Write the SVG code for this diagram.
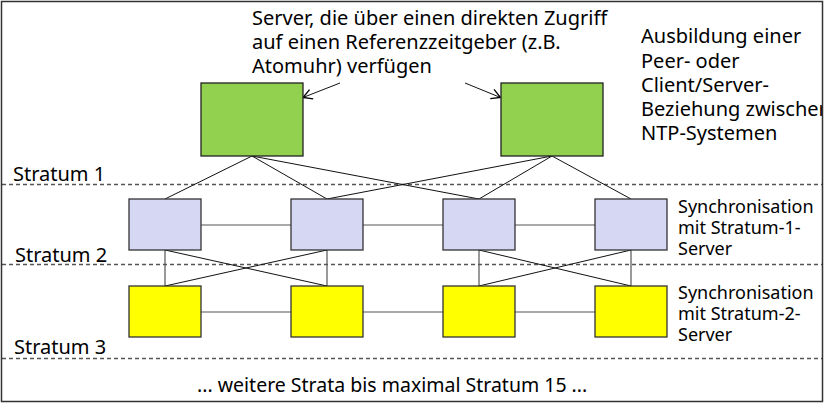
<svg xmlns="http://www.w3.org/2000/svg" width="826" height="403" viewBox="0 0 826 403">
<style>
text{font-family:"Noto Sans","Open Sans","DejaVu Sans",sans-serif;fill:#000}
.t20{font-size:20px}
.t18{font-size:18px}
.green{fill:#92D050;stroke:#222;stroke-width:1.3}
.lav{fill:#D5D7F3;stroke:#333;stroke-width:1.3}
.yel{fill:#FFFF00;stroke:#333;stroke-width:1.3}
.dash{stroke:#555;stroke-width:1.3;stroke-dasharray:4 3;fill:none}
.c{stroke:#111;stroke-width:1;fill:none}
.g{stroke:#555;stroke-width:1.2;fill:none}
</style>
<defs>
<marker id="arr" markerWidth="12" markerHeight="12" refX="10" refY="6" orient="auto" markerUnits="userSpaceOnUse">
<path d="M1,1 L10,6 L1,11" fill="none" stroke="#000" stroke-width="1.3"/>
</marker>
<clipPath id="clip"><rect x="1.5" y="1.5" width="821" height="400"/></clipPath>
</defs>
<rect x="0" y="0" width="826" height="403" fill="#fff"/>
<g id="strata">
<line class="dash" x1="2" y1="184.5" x2="822" y2="184.5"/>
<line class="dash" x1="2" y1="264.5" x2="822" y2="264.5"/>
<line class="dash" x1="2" y1="358.5" x2="822" y2="358.5"/>
<text class="t20" x="13" y="181">Stratum 1</text>
<text class="t20" x="15" y="262">Stratum 2</text>
<text class="t20" x="14" y="354">Stratum 3</text>
</g>
<g id="connectors">
<line class="c" x1="252" y1="156" x2="165" y2="199"/>
<line class="c" x1="252" y1="156" x2="327" y2="199"/>
<line class="c" x1="252" y1="156" x2="479" y2="199"/>
<line class="c" x1="552" y1="156" x2="327" y2="199"/>
<line class="c" x1="552" y1="156" x2="479" y2="199"/>
<line class="c" x1="552" y1="156" x2="631" y2="199"/>
<line class="g" x1="201" y1="225" x2="291" y2="225"/>
<line class="g" x1="363" y1="225" x2="443" y2="225"/>
<line class="g" x1="515" y1="225" x2="595" y2="225"/>
<line class="g" x1="201" y1="312" x2="291" y2="312"/>
<line class="g" x1="363" y1="312" x2="443" y2="312"/>
<line class="g" x1="515" y1="312" x2="595" y2="312"/>
<line class="g" x1="165" y1="250" x2="165" y2="286"/>
<line class="g" x1="327" y1="250" x2="327" y2="286"/>
<line class="g" x1="479" y1="250" x2="479" y2="286"/>
<line class="g" x1="631" y1="250" x2="631" y2="286"/>
<line class="c" x1="165" y1="250" x2="327" y2="286"/>
<line class="c" x1="327" y1="250" x2="165" y2="286"/>
<line class="c" x1="479" y1="250" x2="631" y2="286"/>
<line class="c" x1="631" y1="250" x2="479" y2="286"/>
<line class="c" x1="340" y1="83" x2="303" y2="97.5" marker-end="url(#arr)"/>
<line class="c" x1="465" y1="83" x2="500.5" y2="97.5" marker-end="url(#arr)"/>
</g>
<g id="green1"><rect class="green" x="201" y="83" width="102" height="73"/></g>
<g id="green2"><rect class="green" x="501" y="83" width="102" height="73"/></g>
<g id="lav1"><rect class="lav" x="129" y="199" width="72" height="51"/></g>
<g id="lav2"><rect class="lav" x="291" y="199" width="72" height="51"/></g>
<g id="lav3"><rect class="lav" x="443" y="199" width="72" height="51"/></g>
<g id="lav4"><rect class="lav" x="595" y="199" width="72" height="51"/></g>
<g id="yel1"><rect class="yel" x="129" y="286" width="72" height="51"/></g>
<g id="yel2"><rect class="yel" x="291" y="286" width="72" height="51"/></g>
<g id="yel3"><rect class="yel" x="443" y="286" width="72" height="51"/></g>
<g id="yel4"><rect class="yel" x="595" y="286" width="72" height="51"/></g>
<g id="labels" clip-path="url(#clip)">
<text class="t20" x="252" y="25">Server, die über einen direkten Zugriff</text>
<text class="t20" x="252" y="49">auf einen Referenzzeitgeber (z.B.</text>
<text class="t20" x="252" y="73">Atomuhr) verfügen</text>
<text class="t20" x="641" y="43">Ausbildung einer</text>
<text class="t20" x="641" y="68">Peer- oder</text>
<text class="t20" x="641" y="92">Client/Server-</text>
<text class="t20" x="641" y="116">Beziehung zwischen</text>
<text class="t20" x="641" y="140">NTP-Systemen</text>
<text class="t18" x="678" y="213">Synchronisation</text>
<text class="t18" x="678" y="234">mit Stratum-1-</text>
<text class="t18" x="678" y="255">Server</text>
<text class="t18" x="678" y="299">Synchronisation</text>
<text class="t18" x="678" y="320">mit Stratum-2-</text>
<text class="t18" x="678" y="341">Server</text>
<text x="197" y="392" style="font-size:19.5px">... weitere Strata bis maximal Stratum 15 ...</text>
</g>
<rect x="1.5" y="1.5" width="821" height="400" fill="none" stroke="#333" stroke-width="1.5"/>
</svg>
